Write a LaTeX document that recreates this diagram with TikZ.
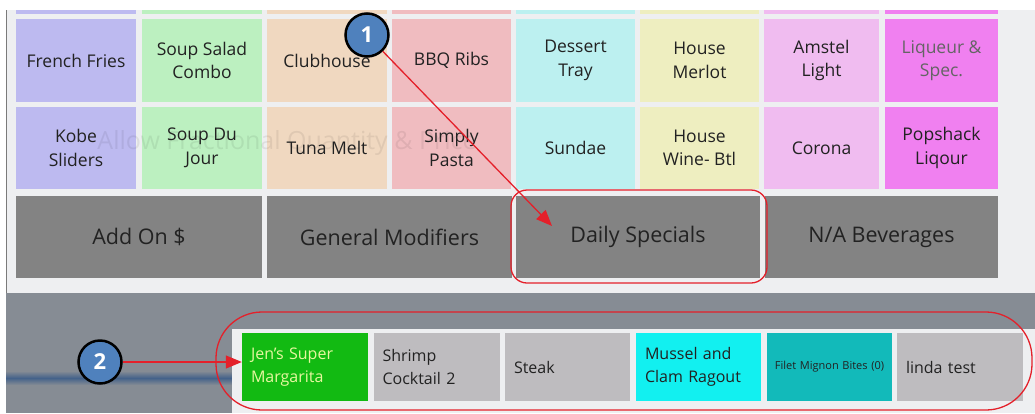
\documentclass[tikz,border=0pt]{standalone}
\usepackage{fontspec}
\setmainfont{Open Sans}
\usepackage{xcolor}
\usetikzlibrary{arrows.meta,positioning}

\definecolor{panelbg}{HTML}{EEEFF1}
\definecolor{bandgray}{HTML}{868C94}
\definecolor{stripeblue}{HTML}{44628A}
\definecolor{edgegray}{HTML}{7A7A7A}
\definecolor{tiletext}{HTML}{222222}
\definecolor{lavender}{HTML}{BDBAF0}
\definecolor{mint}{HTML}{BCF0C0}
\definecolor{peach}{HTML}{F0D8C0}
\definecolor{rose}{HTML}{F0BCC0}
\definecolor{aqua}{HTML}{BCF0F0}
\definecolor{cream}{HTML}{EEEEC0}
\definecolor{orchid}{HTML}{F0BCF0}
\definecolor{magenta}{HTML}{F080F0}
\definecolor{btngray}{HTML}{838383}
\definecolor{limegreen}{HTML}{12BA12}
\definecolor{limetext}{HTML}{E6F7A0}
\definecolor{silver}{HTML}{BEBCBF}
\definecolor{brightcyan}{HTML}{12F0F0}
\definecolor{teal}{HTML}{12BABA}
\definecolor{callred}{HTML}{E4202A}
\definecolor{callblue}{HTML}{4F81BD}

\begin{document}
\begin{tikzpicture}[x=1pt, y=-1pt,
  tile/.style={minimum width=120pt, minimum height=83pt, inner sep=0pt,
    align=center, text=tiletext, font=\fontsize{17.5}{23.5}\selectfont},
  bigbtn/.style={fill=btngray, minimum height=82pt, inner sep=0pt,
    text=tiletext, font=\fontsize{21.5}{24}\selectfont},
  itembtn/.style={minimum height=68pt, inner ysep=0pt, inner xsep=9pt,
    text width=108pt, align=left, text=tiletext,
    font=\fontsize{16}{23}\selectfont},
  callout/.style={circle, fill=callblue, draw=black, line width=2.5pt,
    minimum size=43pt, inner sep=0pt, text=white,
    font=\bfseries\fontsize{22}{22}\selectfont},
  callarrow/.style={draw=callred, line width=1.3pt,
    -{Triangle[length=16pt,width=13pt]}},
  hilite/.style={draw=callred, line width=1.3pt, fill=none}]

\useasboundingbox (0,0) rectangle (1035,413);
\fill[white] (0,0) rectangle (1035,413);

%% panels
\fill[panelbg] (6,10) rectangle (1035,293);
\draw[edgegray, line width=1.5pt] (6.5,10) -- (6.5,293);
\fill[bandgray] (6,293) rectangle (1035,329);
\fill[bandgray] (6,329) rectangle (232,413);
\shade[top color=bandgray, bottom color=bandgray, middle color=stripeblue]
  (6,371) rectangle (232,385);
\fill[panelbg] (232,329) rectangle (1035,413);

%% top row (cut off)
\fill[lavender] (16,10) rectangle (136,14);
\fill[mint] (142,10) rectangle (262,14);
\fill[peach] (267,10) rectangle (387,14);
\fill[rose] (392,10) rectangle (511,14);
\fill[aqua] (516,10) rectangle (635,14);
\fill[cream] (640,10) rectangle (759,14);
\fill[orchid] (764,10) rectangle (879,14);
\fill[magenta] (885,10) rectangle (998,14);

%% row 1
\node[tile, fill=lavender] (fries) at (76,60.5) {French Fries};
\node[tile, fill=mint] (combo) at (202,60.5) {Soup Salad\\Combo};
\node[tile, fill=peach] (club) at (327,60.5) {Clubhouse};
\node[tile, fill=rose, minimum width=119pt] (ribs) at (451.5,60.5) {BBQ Ribs};
\node[tile, fill=aqua, minimum width=119pt] (tray) at (575.5,60.5) {Dessert\\Tray};
\node[tile, fill=cream, minimum width=119pt] (merlot) at (699.5,60.5) {House\\Merlot};
\node[tile, fill=orchid, minimum width=115pt] (amstel) at (821.5,60.5) {Amstel\\Light};
\node[tile, fill=magenta, minimum width=113pt, text=tiletext!70] (spec) at (941.5,60.5) {Liqueur \&\\Spec.};

%% row 2
\node[tile, fill=lavender, minimum height=82pt] (kobe) at (76,148) {Kobe\\Sliders};
\node[tile, fill=mint, minimum height=82pt] (jour) at (202,148) {Soup Du\\Jour};
\node[tile, fill=peach, minimum height=82pt] (tuna) at (327,148) {Tuna Melt};
\node[tile, fill=rose, minimum width=119pt, minimum height=82pt] (pasta) at (451.5,148) {Simply\\Pasta};
\node[tile, fill=aqua, minimum width=119pt, minimum height=82pt] (sundae) at (575.5,148) {Sundae};
\node[tile, fill=cream, minimum width=119pt, minimum height=82pt] (wine) at (699.5,148) {House\\Wine- Btl};
\node[tile, fill=orchid, minimum width=115pt, minimum height=82pt] (corona) at (821.5,148) {Corona};
\node[tile, fill=magenta, minimum width=113pt, minimum height=82pt] (popshack) at (941.5,148) {Popshack\\Liqour};

%% faint watermark
\node[text=black, opacity=0.07, font=\fontsize{25}{28}\selectfont] (fraction) at (287,143) {Allow Fractional Quantity \& Price};

%% big buttons
\node[bigbtn, minimum width=246pt] (addon) at (139,237) {Add On \$};
\node[bigbtn, minimum width=245pt] (general) at (389.5,237) {General Modifiers};
\node[bigbtn, minimum width=244pt] (daily) at (638,237) {Daily Specials};
\node[bigbtn, minimum width=233pt] (nabev) at (881.5,237) {N/A Beverages};

%% bottom items
\node[itembtn, fill=limegreen, text=limetext] (jen) at (305,367) {Jen's Super\\Margarita};
\node[itembtn, fill=silver] (shrimp) at (436.5,367) {Shrimp\\Cocktail 2};
\node[itembtn, fill=silver, text width=107pt] (steak) at (567.5,367) {Steak};
\node[itembtn, fill=brightcyan, text width=107pt] (mussel) at (698.5,367) {Mussel and\\Clam Ragout};
\node[itembtn, fill=teal, text width=125pt, inner xsep=0pt, align=center,
  font=\fontsize{11}{13}\selectfont] (filet) at (829.5,367) {Filet Mignon Bites (0)};
\node[itembtn, fill=silver] (linda) at (960,367) {linda test};

%% highlights
\draw[hilite, rounded corners=16pt] (511,190) rectangle (767,283);
\draw[hilite, rounded corners=46pt] (216,312) rectangle (1032,410);

%% callouts
\node[callout] (one) at (367,35) {1};
\node[callout] (two) at (100,362) {2};
\coordinate (t1) at (552,226);
\draw[callarrow] (one) -- (t1);
\draw[callarrow] (two) -- (two -| jen.west);
\end{tikzpicture}
\end{document}
